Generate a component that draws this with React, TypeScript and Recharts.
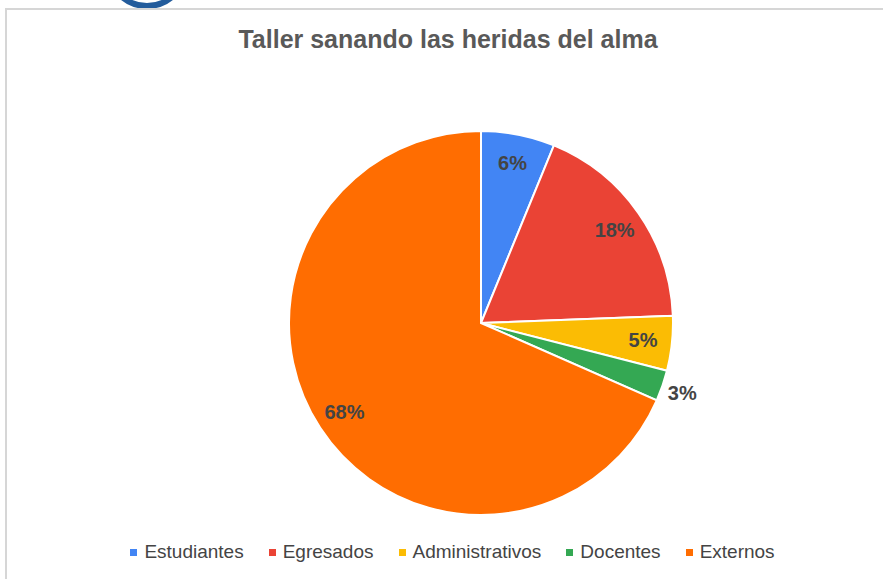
import { PieChart, Pie, Cell, Legend } from 'recharts'

const categories = ['Estudiantes', 'Egresados', 'Administrativos', 'Docentes', 'Externos']
const shares = [6.2, 18.2, 4.6, 2.6, 68.4]
const colors = ['#4285F4', '#EA4335', '#FBBC04', '#34A853', '#FF6D01']

const chartData = categories.map((name, i) => ({ name, value: shares[i] }))

const RAD = Math.PI / 180

const renderLabel = (props: any) => {
  const { cx, cy, midAngle, percent } = props
  // small slices get their label outside the pie
  const r = percent < 0.04 ? 213 : 163
  const x = cx + r * Math.cos(-midAngle * RAD)
  const y = cy + r * Math.sin(-midAngle * RAD)
  return (
    <text
      x={x}
      y={y}
      fill="#444"
      textAnchor="middle"
      dominantBaseline="central"
      fontFamily="'Liberation Sans', Arial, sans-serif"
      fontWeight="bold"
      fontSize={20}
    >
      {`${Math.round(percent * 100)}%`}
    </text>
  )
}

const renderLegend = () => (
  <div
    style={{
      display: 'flex',
      justifyContent: 'center',
      gap: 25,
      fontFamily: "'Liberation Sans', Arial, sans-serif",
      fontSize: 19,
      color: '#444',
    }}
  >
    {categories.map((c, i) => (
      <div key={c} style={{ display: 'flex', alignItems: 'center' }}>
        <span style={{ width: 7, height: 7, background: colors[i], marginRight: 7, display: 'inline-block' }} />
        <span>{c}</span>
      </div>
    ))}
  </div>
)

export default function App() {
  return (
    <div style={{ position: 'absolute', left: 0, top: 0, width: 883, height: 579, background: '#fff', overflow: 'hidden' }}>
      <svg width={883} height={12} style={{ position: 'absolute', left: 0, top: 0 }}>
        <ellipse cx={147} cy={-31} rx={38} ry={37} fill="#fff" stroke="#235c9c" strokeWidth={6} />
      </svg>
      <div
        style={{
          position: 'absolute',
          left: 5,
          top: 8,
          width: 900,
          height: 600,
          borderLeft: '2px solid #d6d6d6',
          borderTop: '2px solid #d6d6d6',
        }}
      />
      <div
        style={{
          position: 'absolute',
          left: 0,
          top: 25,
          width: 896,
          textAlign: 'center',
          fontFamily: "'Liberation Sans', Arial, sans-serif",
          fontWeight: 'bold',
          fontSize: 25,
          color: '#595959',
        }}
      >
        Taller sanando las heridas del alma
      </div>
      <div style={{ position: 'absolute', left: 0, top: 0 }}>
        <PieChart width={883} height={579} margin={{ top: 0, right: 0, bottom: 0, left: 0 }}>
          <Pie
            data={chartData}
            dataKey="value"
            nameKey="name"
            cx={481}
            cy={323}
            outerRadius={192}
            startAngle={90}
            endAngle={-270}
            stroke="#fff"
            strokeWidth={2}
            label={renderLabel}
            labelLine={false}
            isAnimationActive={false}
          >
            {chartData.map((d, i) => (
              <Cell key={d.name} fill={colors[i]} />
            ))}
          </Pie>
          <Legend content={renderLegend} wrapperStyle={{ top: 541, left: 11, width: 883 }} />
        </PieChart>
      </div>
    </div>
  )
}
